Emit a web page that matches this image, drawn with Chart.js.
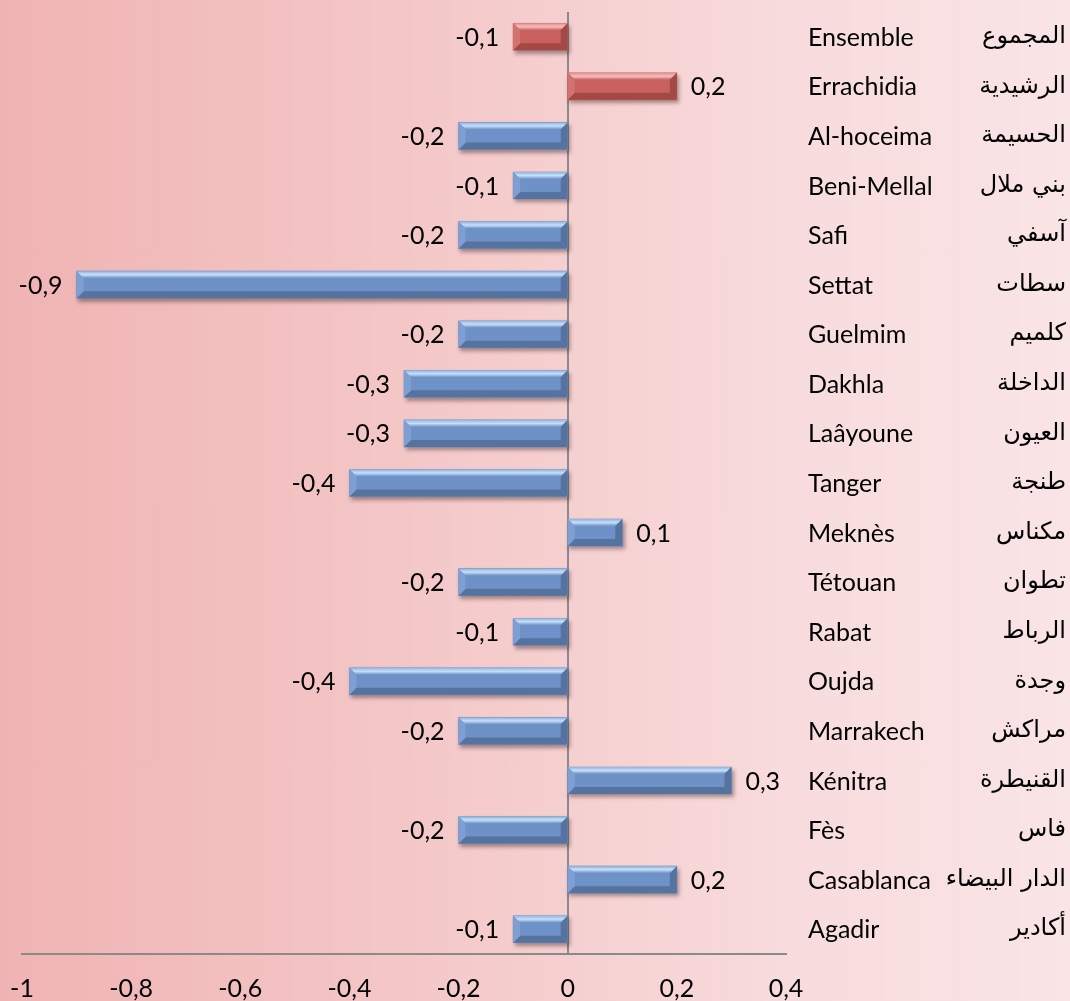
<!DOCTYPE html>
<html>
<head>
<meta charset="utf-8">
<script src="https://cdn.jsdelivr.net/npm/chart.js@4/dist/chart.umd.min.js"></script>
<style>
  body { margin: 0; }
  #wrap {
    width: 1070px; height: 1001px; position: relative;
    background: linear-gradient(to right, #f0b3b3 0%, #f5cbcb 45%, #f8dcdd 75%, #f9e4e6 100%);
  }
</style>
</head>
<body>
<div id="wrap"><canvas id="myChart"></canvas></div>
<script>
// villes (haut -> bas)
const villes = ['Ensemble', 'Errachidia', 'Al-hoceima', 'Beni-Mellal', 'Safi', 'Settat', 'Guelmim',
  'Dakhla', 'Laâyoune', 'Tanger', 'Meknès', 'Tétouan', 'Rabat', 'Oujda', 'Marrakech',
  'Kénitra', 'Fès', 'Casablanca', 'Agadir'];
const villesAr = ['المجموع', 'الرشيدية', 'الحسيمة', 'بني ملال', 'آسفي', 'سطات', 'كلميم',
  'الداخلة', 'العيون', 'طنجة', 'مكناس', 'تطوان', 'الرباط', 'وجدة', 'مراكش',
  'القنيطرة', 'فاس', 'الدار البيضاء', 'أكادير'];
const valeurs = [-0.1, 0.2, -0.2, -0.1, -0.2, -0.9, -0.2, -0.3, -0.3, -0.4, 0.1, -0.2, -0.1, -0.4, -0.2, 0.3, -0.2, 0.2, -0.1];
const villesRouges = ['Ensemble', 'Errachidia'];

const xMin = -1, xMax = 0.4, xStep = 0.2;

const latinFont = 'Lato, "Open Sans", sans-serif';
const arabFont = '"DejaVu Sans", sans-serif';

const bleu = { face: '#6e91c7', top1: '#93b3de', top2: '#c6e0f8', bottom: '#56739f', side: '#7f9fd2' };
const rouge = { face: '#c9625f', top1: '#e1918e', top2: '#f3bebc', bottom: '#a44845', side: '#d2736f' };

function fmt(v) {
  const r = Math.round(v * 10) / 10;
  return String(r).replace('.', ',');
}
function palette(i) {
  return villesRouges.includes(villes[i]) ? rouge : bleu;
}

// ombre sous les barres
const ombre = {
  id: 'ombre',
  beforeDatasetsDraw(chart) {
    const ctx = chart.ctx;
    ctx.save();
    ctx.shadowColor = 'rgba(60,40,40,0.45)';
    ctx.shadowBlur = 4;
    ctx.shadowOffsetX = 2;
    ctx.shadowOffsetY = 3;
  },
  afterDatasetsDraw(chart) {
    chart.ctx.restore();
  }
};

// effet biseau + étiquettes
const biseau = {
  id: 'biseau',
  afterDatasetsDraw(chart) {
    const ctx = chart.ctx;
    const meta = chart.getDatasetMeta(0);
    meta.data.forEach((bar, i) => {
      const p = bar.getProps(['x', 'y', 'base', 'height'], true);
      const l = Math.min(p.x, p.base), r = Math.max(p.x, p.base);
      const t = p.y - p.height / 2, b = p.y + p.height / 2;
      const e = Math.min(7, (r - l) / 2);
      const c = palette(i);
      ctx.save();
      // haut
      const g = ctx.createLinearGradient(0, t, 0, t + e);
      g.addColorStop(0, c.top1);
      g.addColorStop(0.5, c.top2);
      g.addColorStop(1, c.face);
      ctx.fillStyle = g;
      ctx.beginPath();
      ctx.moveTo(l, t); ctx.lineTo(r, t); ctx.lineTo(r - e, t + e); ctx.lineTo(l + e, t + e); ctx.closePath();
      ctx.fill();
      // bas
      ctx.fillStyle = c.bottom;
      ctx.beginPath();
      ctx.moveTo(l, b); ctx.lineTo(r, b); ctx.lineTo(r - e, b - e); ctx.lineTo(l + e, b - e); ctx.closePath();
      ctx.fill();
      // côtés
      ctx.fillStyle = c.side;
      ctx.beginPath();
      ctx.moveTo(l, t); ctx.lineTo(l + e, t + e); ctx.lineTo(l + e, b - e); ctx.lineTo(l, b); ctx.closePath();
      ctx.fill();
      ctx.fillStyle = c.bottom;
      ctx.beginPath();
      ctx.moveTo(r, t); ctx.lineTo(r - e, t + e); ctx.lineTo(r - e, b - e); ctx.lineTo(r, b); ctx.closePath();
      ctx.fill();
      ctx.restore();
    });
  },
  afterDraw(chart) {
    const ctx = chart.ctx;
    const meta = chart.getDatasetMeta(0);
    const yScale = chart.scales.y;
    ctx.save();
    ctx.fillStyle = '#000';
    ctx.textBaseline = 'middle';
    meta.data.forEach((bar, i) => {
      const p = bar.getProps(['x', 'y', 'base'], true);
      const v = valeurs[i];
      ctx.font = '25px ' + latinFont;
      if (v < 0) {
        ctx.textAlign = 'right';
        ctx.fillText(fmt(v), p.x - 14, p.y + 1);
      } else {
        ctx.textAlign = 'left';
        ctx.fillText(fmt(v), p.x + 14, p.y + 1);
      }
    });
    villes.forEach((v, i) => {
      const y = yScale.getPixelForValue(i);
      ctx.font = '25px ' + latinFont;
      ctx.textAlign = 'left';
      ctx.fillText(v, 808, y + 1);
      ctx.font = '24px ' + arabFont;
      ctx.textAlign = 'right';
      ctx.fillText(villesAr[i], 1066, y);
    });
    ctx.restore();
  }
};

const ctx = document.getElementById('myChart').getContext('2d');
const chart = new Chart(ctx, {
  type: 'bar',
  data: {
    labels: villes,
    datasets: [{
      data: valeurs,
      backgroundColor: (c) => palette(c.dataIndex).face,
      borderWidth: 0,
      barThickness: 27,
    }],
  },
  options: {
    indexAxis: 'y',
    responsive: true,
    maintainAspectRatio: false,
    animation: false,
    layout: { padding: { top: 12, right: 284, left: 22, bottom: 0 } },
    plugins: {
      legend: { display: false },
      tooltip: { enabled: false },
    },
    scales: {
      x: {
        min: xMin,
        max: xMax,
        afterFit: (scale) => {
          // hauteur fixe de l'axe, pas de marge auto à gauche
          scale.height = 47;
          scale.paddingLeft = 0;
          scale.paddingRight = 0;
        },
        grid: {
          drawTicks: false,
          color: (c) => (c.tick && Math.abs(c.tick.value) < 1e-9 ? '#8a8a8a' : 'transparent'),
          lineWidth: 2,
        },
        border: { display: true, color: '#8a8a8a', width: 2 },
        ticks: {
          stepSize: xStep,
          padding: 22,
          color: '#000',
          font: { family: latinFont, size: 25, lineHeight: 1 },
          maxRotation: 0,
          callback: (v) => fmt(v),
        },
      },
      y: {
        display: false,
      },
    },
  },
  plugins: [ombre, biseau],
});
</script>
</body>
</html>
